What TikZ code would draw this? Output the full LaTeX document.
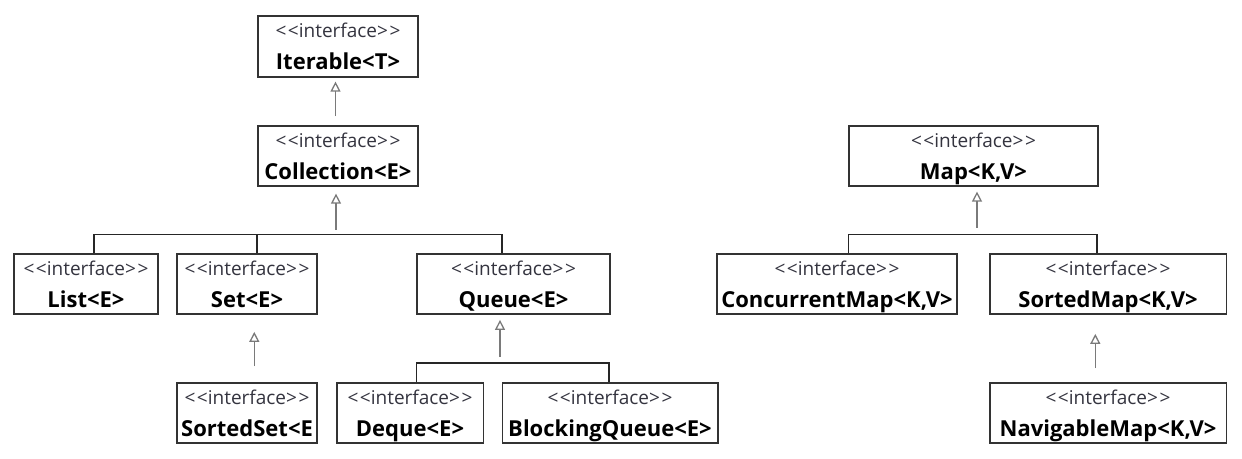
\documentclass[tikz,border=0pt]{standalone}
\usepackage{fontspec}
\setmainfont{Open Sans}
\usetikzlibrary{arrows.meta,calc}
\definecolor{boxline}{HTML}{333333}
\definecolor{arrgray}{HTML}{7A7A7A}
\definecolor{stereocol}{HTML}{34343F}
\tikzset{
  ibox/.style={draw=boxline, line width=1.6pt, fill=white, inner sep=0pt},
  stereo/.style={font=\fontsize{19}{19}\selectfont, text=stereocol, inner sep=0pt},
  iname/.style={font=\fontsize{22}{22}\selectfont\bfseries, text=black, inner sep=0pt},
  inh/.style={draw=arrgray, line width=1.4pt, -{Triangle[open, width=10pt, length=10pt, line width=1.3pt]}},
  tree/.style={draw=black!85, line width=1.6pt}
}
\newcommand{\stereotxt}{<\kern1.5pt<interface>\kern1.5pt>}
\newcommand{\ifc}[6]{%
  \node[ibox, minimum width=#4pt, minimum height=#5pt, anchor=north] (#1) at (#2,#3) {};
  \node[stereo, anchor=base] (#1s) at ($(#1.north)+(0,22)$) {\stereotxt};
  \node[iname, anchor=base] (#1n) at ($(#1.north)+(0,54.5)$) {#6};
}
\begin{document}
\begin{tikzpicture}[x=1pt, y=-1pt]
\useasboundingbox (0,0) rectangle (1242,458);
\fill[white] (0,0) rectangle (1242,458);
% boxes
\ifc{iter}{338}{15}{160}{61}{Iterable<T>}
\ifc{coll}{338}{125}{160}{60}{Collection<E>}
\ifc{list}{86}{253.3}{144}{60}{List<E>}
\ifc{set}{247}{253.3}{140}{60}{Set<E>}
\ifc{queue}{513.5}{253.3}{193}{60}{Queue<E>}
\ifc{sset}{247}{382}{140}{60}{SortedSet<E}
\ifc{deque}{410}{382}{146.6}{60}{Deque<E>}
\ifc{bq}{610}{382}{215.4}{60}{BlockingQueue<E>}
\ifc{map}{973.5}{125}{249}{60}{Map<K,V>}
\ifc{cmap}{837}{253.3}{240}{60}{ConcurrentMap<K,V>}
\ifc{smap}{1108}{253.3}{236.6}{60}{SortedMap<K,V>}
\ifc{nmap}{1108}{382}{236.6}{60}{NavigableMap<K,V>}
% tree connectors
\draw[tree] ($(list.north west)+(81,0)$) |- ($(queue.north west)+(85.7,-19)$) -- ($(queue.north west)+(85.7,0)$);
\draw[tree] ($(set.north west)+(80.7,0)$) -- ($(set.north west)+(80.7,-19)$);
\draw[tree] ($(deque.north west)+(80.6,0)$) |- ($(bq.north west)+(107.7,-19.3)$) -- ($(bq.north west)+(107.7,0)$);
\draw[tree] ($(cmap.north west)+(132.4,0)$) |- ($(smap.north west)+(108.3,-19)$) -- ($(smap.north west)+(108.3,0)$);
% inheritance arrows
\draw[inh] ($(coll.north)+(-2.5,-9)$) -- ($(iter.south)+(-2.5,4)$);
\draw[inh] ($(coll.south)+(-2,43)$) -- ($(coll.south)+(-2,7)$);
\draw[inh] ($(sset.north)+(7.3,-16)$) -- ($(set.south)+(7.3,17)$);
\draw[inh] ($(queue.south)+(-13.5,42)$) -- ($(queue.south)+(-13.5,5)$);
\draw[inh] ($(map.south)+(3.5,41)$) -- ($(map.south)+(3.5,5)$);
\draw[inh] ($(nmap.north)+(-12.7,-14)$) -- ($(smap.south)+(-12.7,19)$);
\end{tikzpicture}
\end{document}
